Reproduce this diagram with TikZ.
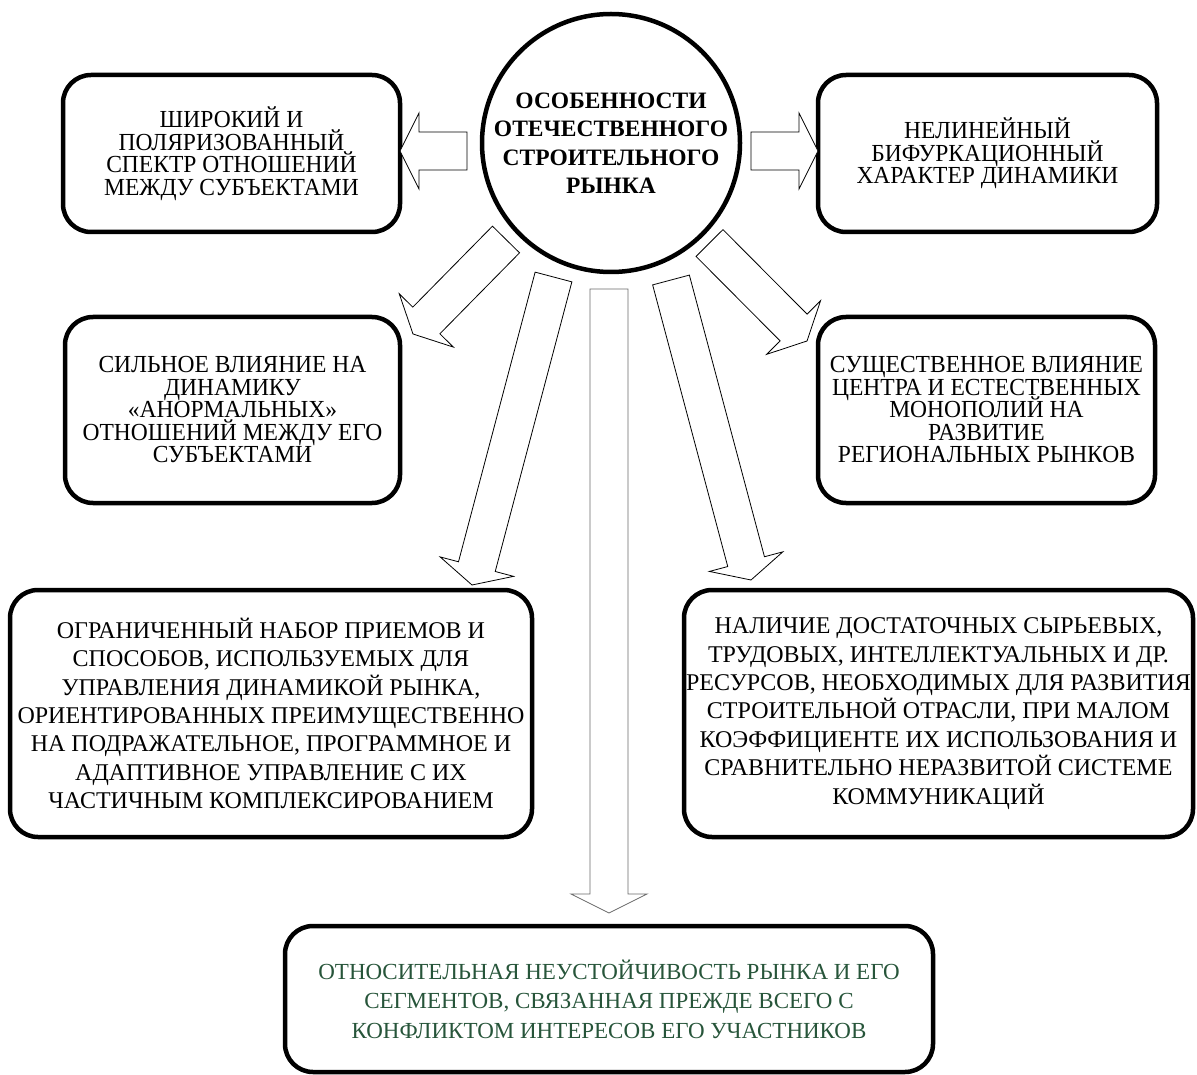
\documentclass[tikz,border=0pt]{standalone}
\usepackage{fontspec}
\setmainfont{Liberation Serif}
\newfontfamily\narrowserif{Liberation Serif}[FakeStretch=0.96]
\usepackage{tikz}
\usetikzlibrary{calc}
\definecolor{DarkGreen}{HTML}{27553A}
\definecolor{ShaftGray}{HTML}{6A6A6A}
\lineskiplimit=-50pt

% hollow block arrow from tail #2 to tip #3
\newcommand\blockarrow[3][]{%
  \draw[blockarr,#1] ($(#2)!19pt!90:(#3)$)
    -- ($(#3)!19pt!(#2)!19pt!90:(#3)$)
    -- ($(#3)!19pt!(#2)!38pt!90:(#3)$)
    -- (#3)
    -- ($(#3)!19pt!(#2)!38pt!-90:(#3)$)
    -- ($(#3)!19pt!(#2)!19pt!-90:(#3)$)
    -- ($(#2)!19pt!-90:(#3)$) -- cycle;}

\begin{document}
\begin{tikzpicture}[x=1pt,y=-1pt,
  card/.style={draw,line width=4.5pt,rounded corners=28pt,inner sep=0pt,align=center},
  tall/.style={font=\narrowserif\fontsize{24.5}{22.5}\selectfont},
  plain/.style={font=\fontsize{24}{28.4}\selectfont},
  blockarr/.style={draw=black,line width=0.8pt,fill=white}]
  \useasboundingbox (0,0) rectangle (1197,1075);

  % centre
  \node[draw,circle,line width=4.5pt,minimum size=258pt,inner sep=0pt,align=center,
        font=\bfseries\fontsize{23.5}{28.5}\selectfont] (core) at (611,143)
    {ОСОБЕННОСТИ\\ОТЕЧЕСТВЕННОГО\\СТРОИТЕЛЬНОГО\\РЫНКА};

  % features
  \node[card,tall,minimum width=337pt,minimum height=157pt] (wide) at (231.5,153.5)
    {ШИРОКИЙ И\\ПОЛЯРИЗОВАННЫЙ\\СПЕКТР ОТНОШЕНИЙ\\МЕЖДУ СУБЪЕКТАМИ};
  \node[card,tall,minimum width=339pt,minimum height=157pt] (nonlin) at (987.5,153.5)
    {НЕЛИНЕЙНЫЙ\\БИФУРКАЦИОННЫЙ\\ХАРАКТЕР ДИНАМИКИ};
  \node[card,tall,minimum width=335pt,minimum height=186pt] (abnorm) at (232.5,410)
    {СИЛЬНОЕ ВЛИЯНИЕ НА\\ДИНАМИКУ\\«АНОРМАЛЬНЫХ»\\ОТНОШЕНИЙ МЕЖДУ ЕГО\\СУБЪЕКТАМИ};
  \node[card,tall,minimum width=337pt,minimum height=186pt] (monopoly) at (986.5,410)
    {СУЩЕСТВЕННОЕ ВЛИЯНИЕ\\ЦЕНТРА И ЕСТЕСТВЕННЫХ\\МОНОПОЛИЙ НА\\РАЗВИТИЕ\\РЕГИОНАЛЬНЫХ РЫНКОВ};
  \node[card,plain,minimum width=522pt,minimum height=247pt] (methods) at (271,713.5)
    {ОГРАНИЧЕННЫЙ НАБОР ПРИЕМОВ И\\СПОСОБОВ, ИСПОЛЬЗУЕМЫХ ДЛЯ\\УПРАВЛЕНИЯ ДИНАМИКОЙ РЫНКА,\\ОРИЕНТИРОВАННЫХ ПРЕИМУЩЕСТВЕННО\\НА ПОДРАЖАТЕЛЬНОЕ, ПРОГРАММНОЕ И\\АДАПТИВНОЕ УПРАВЛЕНИЕ С ИХ\\ЧАСТИЧНЫМ КОМПЛЕКСИРОВАНИЕМ};
  \node[card,plain,minimum width=509pt,minimum height=247pt] (resources) at (938.5,713.5)
    {НАЛИЧИЕ ДОСТАТОЧНЫХ СЫРЬЕВЫХ,\\ТРУДОВЫХ, ИНТЕЛЛЕКТУАЛЬНЫХ И ДР.\\РЕСУРСОВ, НЕОБХОДИМЫХ ДЛЯ РАЗВИТИЯ\\СТРОИТЕЛЬНОЙ ОТРАСЛИ, ПРИ МАЛОМ\\КОЭФФИЦИЕНТЕ ИХ ИСПОЛЬЗОВАНИЯ И\\СРАВНИТЕЛЬНО НЕРАЗВИТОЙ СИСТЕМЕ\\КОММУНИКАЦИЙ};
  \node[card,minimum width=648pt,minimum height=146pt,text=DarkGreen,
        font=\fontsize{23}{29.5}\selectfont] (instab) at (609,999)
    {ОТНОСИТЕЛЬНАЯ НЕУСТОЙЧИВОСТЬ РЫНКА И ЕГО\\СЕГМЕНТОВ, СВЯЗАННАЯ ПРЕЖДЕ ВСЕГО С\\КОНФЛИКТОМ ИНТЕРЕСОВ ЕГО УЧАСТНИКОВ};

  % arrow ends
  \coordinate (tW) at (467,151);   \coordinate (hW) at (400,151);
  \coordinate (tE) at (751,151);   \coordinate (hE) at (818,151);
  \coordinate (tA) at (506,239.5); \coordinate (hA) at (413,334);
  \coordinate (tB) at (553.5,277); \coordinate (hB) at (472,585);
  \coordinate (tC) at (671,280);   \coordinate (hC) at (751,580);
  \coordinate (tD) at (709.5,243); \coordinate (hD) at (807,341);
  \coordinate (tS) at (609,289);   \coordinate (hS) at (609,913);

  \blockarrow{tW}{hW}
  \blockarrow{tE}{hE}
  \blockarrow{tA}{hA}
  \blockarrow{tB}{hB}
  \blockarrow{tC}{hC}
  \blockarrow{tD}{hD}
  \blockarrow[draw=ShaftGray]{tS}{hS}
\end{tikzpicture}
\end{document}
